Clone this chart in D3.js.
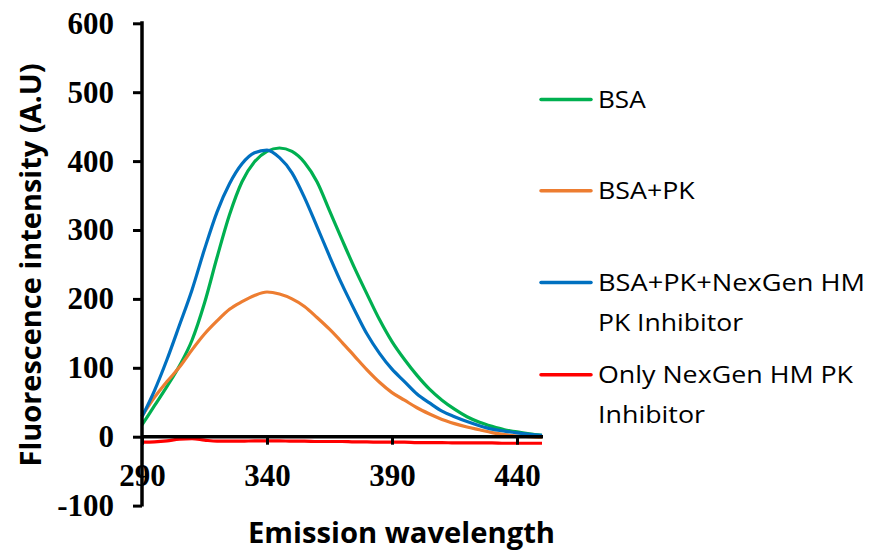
<!DOCTYPE html>
<html>
<head>
<meta charset="utf-8">
<script src="https://cdn.jsdelivr.net/npm/d3@7"></script>
<style>
  body { margin: 0; background: #fff; }
  svg { display: block; }
</style>
</head>
<body>
<div id="chart"></div>
<script>
(function () {
	'use strict';

	// emission wavelength (nm), every 5 nm
	var wavelengths = [290, 295, 300, 305, 310, 315, 320, 325, 330, 335, 340, 345, 350, 355, 360, 365,
		370, 375, 380, 385, 390, 395, 400, 405, 410, 415, 420, 425, 430, 435, 440, 445, 450];

	var bsa = [17, 45, 73, 103, 140, 194, 260, 322, 370, 399, 414, 419, 414, 398, 370, 328,
		286, 245, 207, 170, 138, 112, 89, 69, 53, 40, 29, 21, 15, 10, 7, 4, 2];
	var bsaPk = [30, 57, 80, 101, 126, 149, 168, 185, 196, 205, 210, 207, 200, 189, 173, 156,
		137, 117, 97, 79, 64, 53, 42, 33, 25, 19, 14, 10, 6, 3, 1, 0, -1];
	var bsaPkInhibitor = [29, 67, 112, 162, 213, 272, 326, 367, 396, 412, 416, 405, 383, 347, 305, 262,
		221, 184, 149, 121, 98, 80, 62, 49, 37, 29, 22, 16, 11, 8, 5.5, 3.5, 2];
	var inhibitorOnly = [-8, -7.5, -6, -3.5, -3, -5, -6.5, -6.5, -6.5, -6, -6, -6, -6.5, -6.5, -7, -7,
		-7, -7.5, -7.5, -8, -8, -8, -8.5, -8.5, -8.5, -9, -9, -9, -9, -9.5, -9.5, -9.5, -9.5];

	var yTicks = [-100, 0, 100, 200, 300, 400, 500, 600];
	var xTicks = [290, 340, 390, 440];
	var seriesNames = ["BSA", "BSA+PK", "BSA+PK+NexGen HM PK Inhibitor", "Only NexGen HM PK Inhibitor"];
	var legendLines = [["BSA"], ["BSA+PK"], ["BSA+PK+NexGen HM", "PK Inhibitor"], ["Only NexGen HM PK", "Inhibitor"]];
	var colors = ["#00B050", "#ED7D31", "#0070C0", "#FF0000"];

	var series = [bsa, bsaPk, bsaPkInhibitor, inhibitorOnly].map(function (vals, i) {
		return {
			name: seriesNames[i],
			color: colors[i],
			points: vals.map(function (v, j) { return { x: wavelengths[j], y: v }; })
		};
	});

	var width = 880, height = 552;
	var svg = d3.select("#chart").append("svg")
		.attr("width", width)
		.attr("height", height);

	var x = d3.scaleLinear().domain([290, 450]).range([142, 542]);
	var y = d3.scaleLinear().domain([-100, 600]).range([505.6, 23.3]);

	var line = d3.line()
		.x(function (d) { return x(d.x); })
		.y(function (d) { return y(d.y); })
		.curve(d3.curveMonotoneX);

	// data lines
	svg.append("g").selectAll("path")
		.data(series)
		.enter()
		.append("path")
		.attr("fill", "none")
		.attr("stroke", function (d) { return d.color; })
		.attr("stroke-width", 3.2)
		.attr("stroke-linejoin", "round")
		.attr("d", function (d) { return line(d.points); });

	var serif = "'Liberation Serif', 'Times New Roman', serif";
	var sans = "'Open Sans', 'Noto Sans', sans-serif";
	// plain hyphen for negatives, like the original
	var plain = function (d) { return String(d); };

	// y axis
	var yAxis = svg.append("g")
		.attr("transform", "translate(" + x(290) + ",0)")
		.call(d3.axisLeft(y).tickValues(yTicks).tickFormat(plain).tickSize(9).tickSizeOuter(0).tickPadding(19));
	yAxis.select(".domain").remove();
	yAxis.selectAll(".tick line").attr("stroke", "#000").attr("stroke-width", 3);
	yAxis.selectAll(".tick text")
		.attr("fill", "#000")
		.style("font-family", serif)
		.style("font-weight", "bold")
		.style("font-size", "31px");

	// x axis sits on the zero line
	var xAxis = svg.append("g")
		.attr("transform", "translate(0," + y(0) + ")")
		.call(d3.axisBottom(x).tickValues(xTicks).tickFormat(plain).tickSize(8).tickSizeOuter(0).tickPadding(19));
	xAxis.select(".domain").remove();
	xAxis.selectAll(".tick line").attr("stroke", "#000").attr("stroke-width", 3);
	xAxis.selectAll(".tick text")
		.attr("fill", "#000")
		.style("font-family", serif)
		.style("font-weight", "bold")
		.style("font-size", "31px");

	svg.append("line")
		.attr("x1", x(290)).attr("x2", x(290))
		.attr("y1", y(600) - 2).attr("y2", y(-100) + 1)
		.attr("stroke", "#000").attr("stroke-width", 3.5);
	svg.append("line")
		.attr("x1", x(290)).attr("x2", x(450) + 1)
		.attr("y1", y(0)).attr("y2", y(0))
		.attr("stroke", "#000").attr("stroke-width", 3.5);

	// axis titles
	svg.append("text")
		.attr("transform", "translate(41,265) rotate(-90)")
		.attr("text-anchor", "middle")
		.attr("textLength", 403)
		.attr("lengthAdjust", "spacingAndGlyphs")
		.style("font-family", sans)
		.style("font-weight", "bold")
		.style("font-size", "28px")
		.text("Fluorescence intensity (A.U)");

	svg.append("text")
		.attr("x", 401.5)
		.attr("y", 543)
		.attr("text-anchor", "middle")
		.attr("textLength", 307)
		.attr("lengthAdjust", "spacingAndGlyphs")
		.style("font-family", sans)
		.style("font-weight", "bold")
		.style("font-size", "28px")
		.text("Emission wavelength");

	// legend
	var legendY = [99.5, 190.7, 282.5, 374.7];
	var legendWidths = [[47.7], [96.7], [267, 145], [255, 107]];
	var legend = svg.append("g").selectAll("g")
		.data(series)
		.enter()
		.append("g")
		.attr("transform", function (d, i) { return "translate(0," + legendY[i] + ")"; });

	legend.append("line")
		.attr("x1", 541).attr("x2", 591)
		.attr("stroke", function (d) { return d.color; })
		.attr("stroke-width", 3.5)
		.attr("stroke-linecap", "round");

	legend.each(function (d, i) {
		var g = d3.select(this);
		legendLines[i].forEach(function (t, k) {
			g.append("text")
				.attr("x", 598)
				.attr("y", 8.5 + k * 39.5)
				.attr("textLength", legendWidths[i][k])
				.attr("lengthAdjust", "spacingAndGlyphs")
				.style("font-family", sans)
				.style("font-size", "24px")
				.attr("fill", "#000")
				.text(t);
		});
	});
}());
</script>
</body>
</html>
